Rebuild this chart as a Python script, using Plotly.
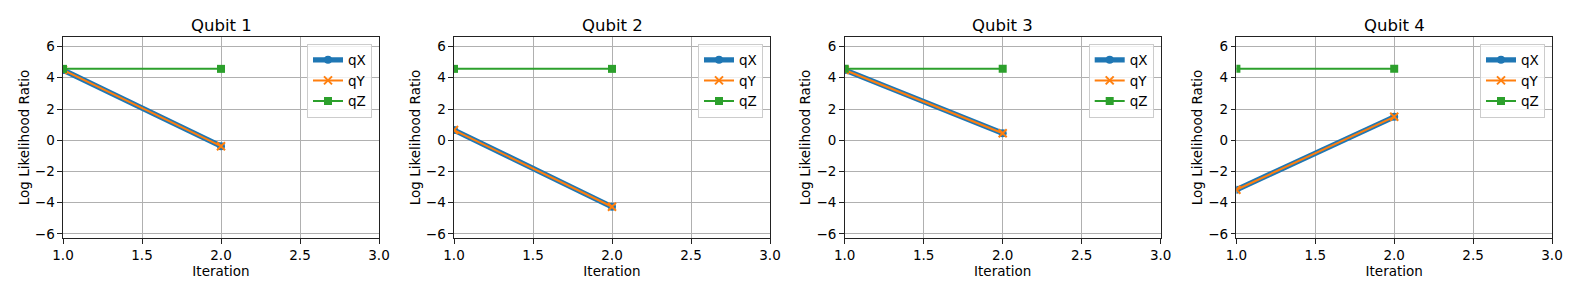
import plotly.graph_objects as go

iterations = [1, 2]
qubit_titles = ["Qubit 1", "Qubit 2", "Qubit 3", "Qubit 4"]
qX_values = [[4.5, -0.38], [0.65, -4.26], [4.5, 0.45], [-3.17, 1.5]]
qY_values = [[4.5, -0.38], [0.65, -4.26], [4.5, 0.45], [-3.17, 1.5]]
qZ_values = [[4.57, 4.57], [4.57, 4.57], [4.57, 4.57], [4.57, 4.57]]
series_names = ["qX", "qY", "qZ"]
x_ticks = [1.0, 1.5, 2.0, 2.5, 3.0]
y_ticks = [-6, -4, -2, 0, 2, 4, 6]

BLUE, ORANGE, GREEN = "#1f77b4", "#ff7f0e", "#2ca02c"
FONT = "DejaVu Sans"

W, H = 1578, 296
ml, mr, mt, mb = 63.3, 25.7, 36.7, 57.7
pw = W - ml - mr
ph = H - mt - mb
lefts = [63.3, 454.3, 845.0, 1236.7]
sub_w = 316.0

fig = go.Figure()
annotations = []
for i in range(4):
    n = "" if i == 0 else str(i + 1)
    xa, ya = "x" + n, "y" + n
    lg = "legend" + n
    d0 = (lefts[i] - ml) / pw
    d1 = min(1.0, (lefts[i] + sub_w - ml) / pw)
    fig.add_trace(go.Scatter(x=iterations, y=qX_values[i], name=series_names[0], mode="lines+markers",
                             line=dict(color=BLUE, width=5.3), marker=dict(symbol="circle", size=8, color=BLUE),
                             xaxis=xa, yaxis=ya, legend=lg))
    fig.add_trace(go.Scatter(x=iterations, y=qY_values[i], name=series_names[1], mode="lines+markers",
                             line=dict(color=ORANGE, width=2),
                             marker=dict(symbol="x-thin", size=8, color=ORANGE, line=dict(color=ORANGE, width=2)),
                             xaxis=xa, yaxis=ya, legend=lg))
    fig.add_trace(go.Scatter(x=iterations, y=qZ_values[i], name=series_names[2], mode="lines+markers",
                             line=dict(color=GREEN, width=2), marker=dict(symbol="square", size=8, color=GREEN),
                             xaxis=xa, yaxis=ya, legend=lg))
    axis_common = dict(showline=True, mirror=True, linecolor="#222222", linewidth=1.1,
                       ticks="outside", ticklen=4.5, tickcolor="#222222", tickwidth=1.1,
                       showgrid=True, gridcolor="#b0b0b0", gridwidth=1, zeroline=False,
                       automargin=False,
                       tickfont=dict(family=FONT, size=13.5, color="black"))
    fig.update_layout(**{
        "xaxis" + n: dict(domain=[d0, d1], range=[1, 3], tickvals=x_ticks,
                          ticktext=[f"{v:.1f}" for v in x_ticks], anchor=ya,
                          title=dict(text="Iteration", font=dict(family=FONT, size=13.5, color="black"), standoff=4),
                          **axis_common),
        "yaxis" + n: dict(domain=[0, 1], range=[-6.26, 6.61], tickvals=y_ticks, anchor=xa,
                          title=dict(text="Log Likelihood Ratio", font=dict(family=FONT, size=13.5, color="black"), standoff=2),
                          **axis_common),
        lg: dict(x=d1 - 7 / pw, y=1 - 6.6 / ph, xanchor="right", yanchor="top",
                 bgcolor="rgba(255,255,255,0.8)", bordercolor="#cccccc", borderwidth=1,
                 font=dict(family=FONT, size=13.5, color="black"), tracegroupgap=0,
                 itemwidth=30),
    })
    annotations.append(dict(text=qubit_titles[i], x=(d0 + d1) / 2, y=1, xref="paper", yref="paper",
                            xanchor="center", yanchor="bottom", yshift=0, showarrow=False,
                            font=dict(family=FONT, size=16.5, color="black")))

fig.update_layout(width=W, height=H, margin=dict(l=ml, r=mr, t=mt, b=mb, autoexpand=False),
                  plot_bgcolor="white", paper_bgcolor="white", annotations=annotations,
                  font=dict(family=FONT, color="black"))
fig.write_html("out.html", config={"displayModeBar": False},
               post_script="document.body.style.margin='0';document.body.style.padding='0';document.body.style.overflow='hidden';")
